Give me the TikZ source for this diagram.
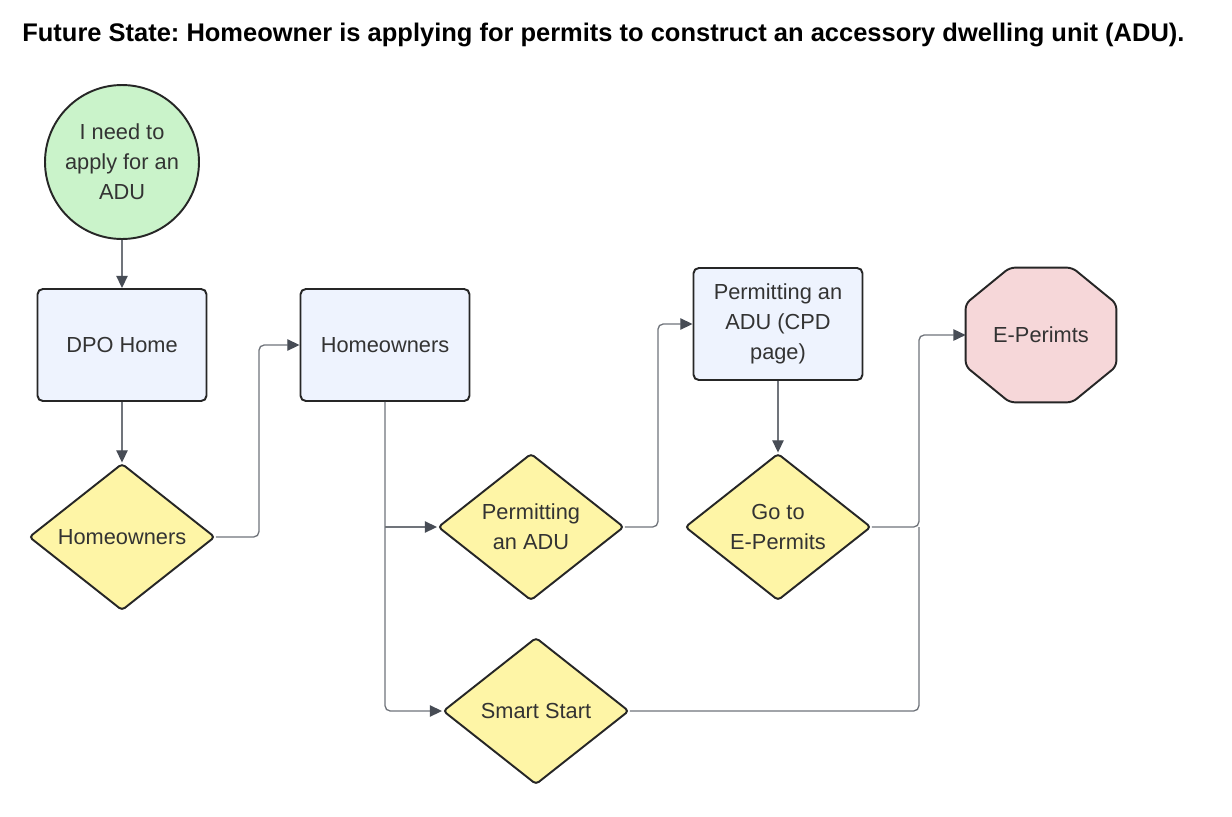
\documentclass[tikz,border=0pt]{standalone}
\usepackage{fontspec}
\setmainfont{Liberation Sans}
\usetikzlibrary{arrows.meta,shapes.geometric,calc,backgrounds}
\definecolor{boxfill}{HTML}{EEF3FE}
\definecolor{dfill}{HTML}{FEF5A6}
\definecolor{cfill}{HTML}{CAF3CA}
\definecolor{ofill}{HTML}{F6D7D9}
\definecolor{edge}{HTML}{262626}
\definecolor{wire}{HTML}{70747B}
\definecolor{tipc}{HTML}{474C55}
\definecolor{txt}{HTML}{333333}
\frenchspacing
\begin{document}
\begin{tikzpicture}[x=0.02cm,y=-0.02cm,
 base/.style={draw=edge, line width=1.1pt, text=txt, font=\fontsize{12.4pt}{17pt}\selectfont, align=center, inner sep=0pt},
 pagebox/.style={base, rectangle, rounded corners=3pt, fill=boxfill, minimum width=3.38cm, minimum height=2.24cm},
 choice/.style={base, diamond, shape aspect=1.27, rounded corners=2pt, fill=dfill, minimum width=3.72cm, minimum height=2.94cm},
 startnode/.style={base, circle, fill=cfill, minimum size=3.08cm},
 wireline/.style={draw=wire, line width=0.75pt, rounded corners=3pt},
 wirestyle/.style={wireline, -{Triangle[length=7pt,width=6.5pt,color=tipc]}},
 labeltext/.style={text=txt, font=\fontsize{12.4pt}{17pt}\selectfont, align=center, inner sep=0pt}
]
\useasboundingbox[fill=white] (0,0) rectangle (1232,816);

\node[anchor=west, inner sep=0pt, font=\bfseries\fontsize{14.5pt}{17pt}\selectfont] (title) at (22,35)
  {Future State: Homeowner is applying for permits to construct an accessory dwelling unit (ADU).};

\node[startnode] (c0) at (122,162) {I need to\\apply for an\\ADU};
\node[pagebox] (dpo) at (122,345) {DPO Home};
\node[pagebox] (ho) at (385,345) {Homeowners};
\node[choice] (h1) at (122,537) {Homeowners};
\node[choice] (pa) at (531,527) {Permitting\\an ADU};
\node[pagebox] (cpd) at (778,324) {Permitting an\\ADU (CPD\\page)};
\node[choice] (go) at (778,527) {Go to\\E-Permits};
\node[choice] (ss) at (536,711) {Smart Start};
\node[draw=none, minimum width=3cm, minimum height=2.68cm, inner sep=0pt] (ep) at (1041,335) {};
\draw[base, fill=ofill, rounded corners=3pt]
  ($(ep.north west)+(44,0)$) -- ($(ep.north east)+(-44,0)$) -- ($(ep.north east)+(0,36)$)
  -- ($(ep.south east)+(0,-36)$) -- ($(ep.south east)+(-44,0)$) -- ($(ep.south west)+(44,0)$)
  -- ($(ep.south west)+(0,-36)$) -- ($(ep.north west)+(0,36)$) -- cycle;
\node[labeltext] (eplabel) at (ep.center) {E-Perimts};

\coordinate (j) at ($(go.east)+(47,0)$);

\draw[wirestyle] (c0.south) -- (dpo.north);
\draw[wirestyle] (dpo.south) -- (h1.north);
\draw[wirestyle] (h1.east) -- ($(h1.east)+(43,0)$) |- (ho.west);
\draw[wirestyle] (ho.south) |- (ss.west);
\draw[wirestyle] (ho.south |- pa.west) -- (pa.west);
\draw[wirestyle] (pa.east) -- ($(pa.east)+(33,0)$) |- (cpd.west);
\draw[wirestyle] (cpd.south) -- (go.north);
\draw[wireline] (ss.east) -| (j);
\draw[wirestyle] (go.east) -- (j) |- (ep.west);
\end{tikzpicture}
\end{document}
